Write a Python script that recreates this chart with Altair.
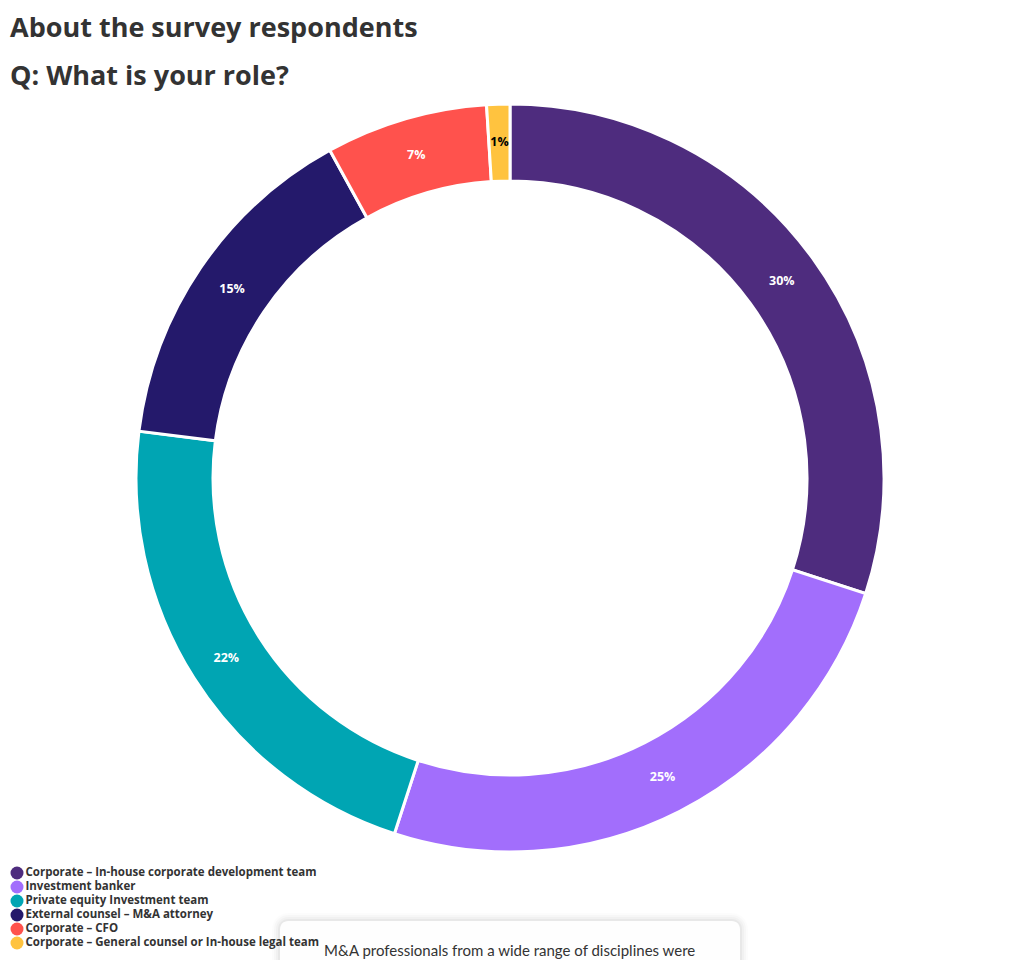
import altair as alt
import pandas as pd

categories = [
    "Corporate – In-house corporate development team",
    "Investment banker",
    "Private equity Investment team",
    "External counsel – M&A attorney",
    "Corporate – CFO",
    "Corporate – General counsel or In-house legal team",
]
values = [30, 25, 22, 15, 7, 1]
colors = ["#4e2c7e", "#a26efc", "#00a5b3", "#24196b", "#ff524d", "#ffc33f"]
title_lines = ["About the survey respondents", "Q: What is your role?"]
note_text = "M&A professionals from a wide range of disciplines were"

df = pd.DataFrame({"role": categories, "share": values, "rank": list(range(len(categories)))})
df["label"] = df["share"].astype(str) + "%"

CX, CY = 502, 380
base = alt.Chart(df).encode(
    theta=alt.Theta("share:Q", stack=True),
    order=alt.Order("rank:Q"),
)

arcs = base.mark_arc(radius=374, radius2=297, stroke="white", strokeWidth=3).encode(
    x=alt.value(CX),
    y=alt.value(CY),
    color=alt.Color(
        "role:N",
        scale=alt.Scale(domain=categories, range=colors),
        sort=categories,
        legend=alt.Legend(
            title=None, orient="none", legendX=2.5, legendY=768.5,
            symbolType="circle", symbolSize=169, symbolStrokeWidth=0, symbolOpacity=1,
            labelFont="Open Sans", labelFontSize=11.5, labelFontWeight="bold", labelColor="#333333",
            rowPadding=1, labelOffset=2, labelLimit=0, padding=0,
        ),
    ),
)

labels = base.mark_text(radius=336, font="Open Sans", fontSize=12.5, fontWeight="bold").encode(
    x=alt.value(CX),
    y=alt.value(CY),
    text=alt.Text("label:N"),
    color=alt.condition(alt.datum.share < 2, alt.value("#000000"), alt.value("#ffffff")),
)

note_df = pd.DataFrame({"note": [note_text]})
note_base = alt.Chart(note_df)
shadows = []
for d, op in [(8, 0.012), (6, 0.018), (4, 0.025), (2, 0.035)]:
    shadows.append(
        note_base.mark_rect(cornerRadius=8 + d, fill="#000000", opacity=op).encode(
            x=alt.value(272 - d), x2=alt.value(732 + d), y=alt.value(823 - d), y2=alt.value(900)
        )
    )
box = note_base.mark_rect(cornerRadius=8, fill="#ffffff", opacity=0.92).encode(
    x=alt.value(272), x2=alt.value(732), y=alt.value(823), y2=alt.value(900)
)
note = note_base.mark_text(align="left", baseline="alphabetic", font="Lato", fontSize=15, color="#333333").encode(
    x=alt.value(316), y=alt.value(858), text="note:N"
)

chart = alt.layer(arcs, labels, *shadows, box, note).properties(
    width=1004,
    height=862,
    autosize=alt.AutoSizeParams(type="none"),
    padding={"left": 0, "top": 90, "right": 0, "bottom": 0},
    title=alt.Title(
        title_lines, anchor="start", frame="group", font="Open Sans", fontSize=27,
        fontWeight="bold", color="#333333", lineHeight=48, dx=2, offset=7,
    ),
).configure_view(stroke=None)

chart.save("out.html", embed_options={"renderer": "svg", "actions": False})
